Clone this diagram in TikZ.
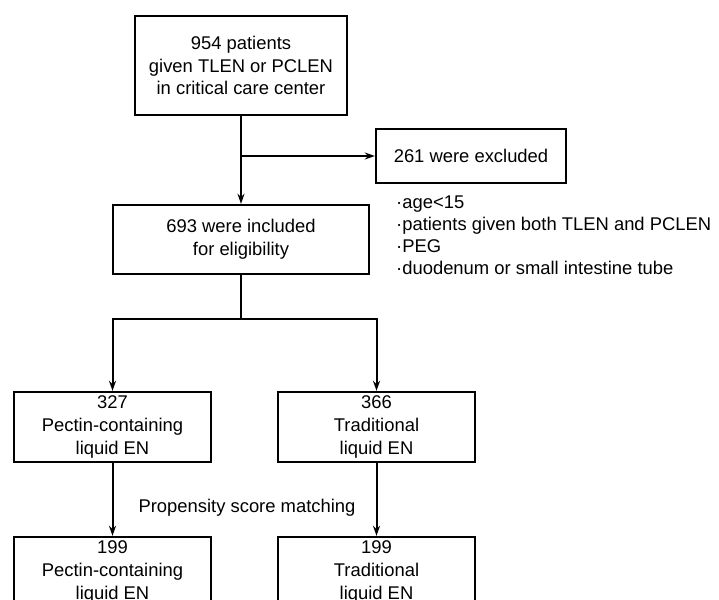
\documentclass[tikz,border=0pt]{standalone}
\usepackage{fontspec}
\setmainfont{Liberation Sans}
\usetikzlibrary{arrows.meta}
\begin{document}
\begin{tikzpicture}[x=1pt,y=-1pt,
  box/.style={draw=black,line width=2.4pt,inner sep=0pt,align=center,
    font=\fontsize{18.4}{22.6}\selectfont},
  conn/.style={line width=2pt,-{Stealth[length=10pt,width=7pt]}},
  plain/.style={line width=2pt},
  lbl/.style={inner sep=0pt,font=\fontsize{18.4}{22}\selectfont}]
\clip (0,0) rectangle (719,599);
\useasboundingbox (0,0) rectangle (719,599);
\node[box,minimum width=212pt,minimum height=99pt] (top) at (241,65.5)
  {954 patients\\given TLEN or PCLEN\\in critical care center};
\node[box,minimum width=190pt,minimum height=54pt] (excl) at (471,156)
  {261 were excluded};
\node[box,minimum width=256pt,minimum height=69pt] (incl) at (241,239.5)
  {693 were included\\for eligibility};
\node[lbl,align=left,anchor=west] (list) at (396,235)
  {·age<15\\·patients given both TLEN and PCLEN\\·PEG\\·duodenum or small intestine tube};
\node[box,minimum width=197pt,minimum height=70pt] (pc) at (112.5,427)
  {327\\Pectin-containing\\liquid EN};
\node[box,minimum width=197pt,minimum height=70pt] (tr) at (376.5,427)
  {366\\Traditional\\liquid EN};
\node[box,minimum width=197pt,minimum height=70pt] (pc2) at (112.5,572)
  {199\\Pectin-containing\\liquid EN};
\node[box,minimum width=197pt,minimum height=70pt] (tr2) at (376.5,572)
  {199\\Traditional\\liquid EN};
\node[lbl] (psm) at (247,508) {Propensity score matching};
\coordinate (j1) at (top.south |- excl.west);
\coordinate (j2) at (241,319);
\coordinate (jl) at (pc.north |- j2);
\coordinate (jr) at (tr.north |- j2);
\draw[conn] (top.south) -- (incl.north);
\draw[conn] (j1) -- (excl.west);
\draw[plain] (incl.south) -- (j2);
\draw[plain,line cap=rect] (jl) -- (jr);
\draw[conn] (jl) -- (pc.north);
\draw[conn] (jr) -- (tr.north);
\draw[conn] (pc.south) -- (pc2.north);
\draw[conn] (tr.south) -- (tr2.north);
\end{tikzpicture}
\end{document}
